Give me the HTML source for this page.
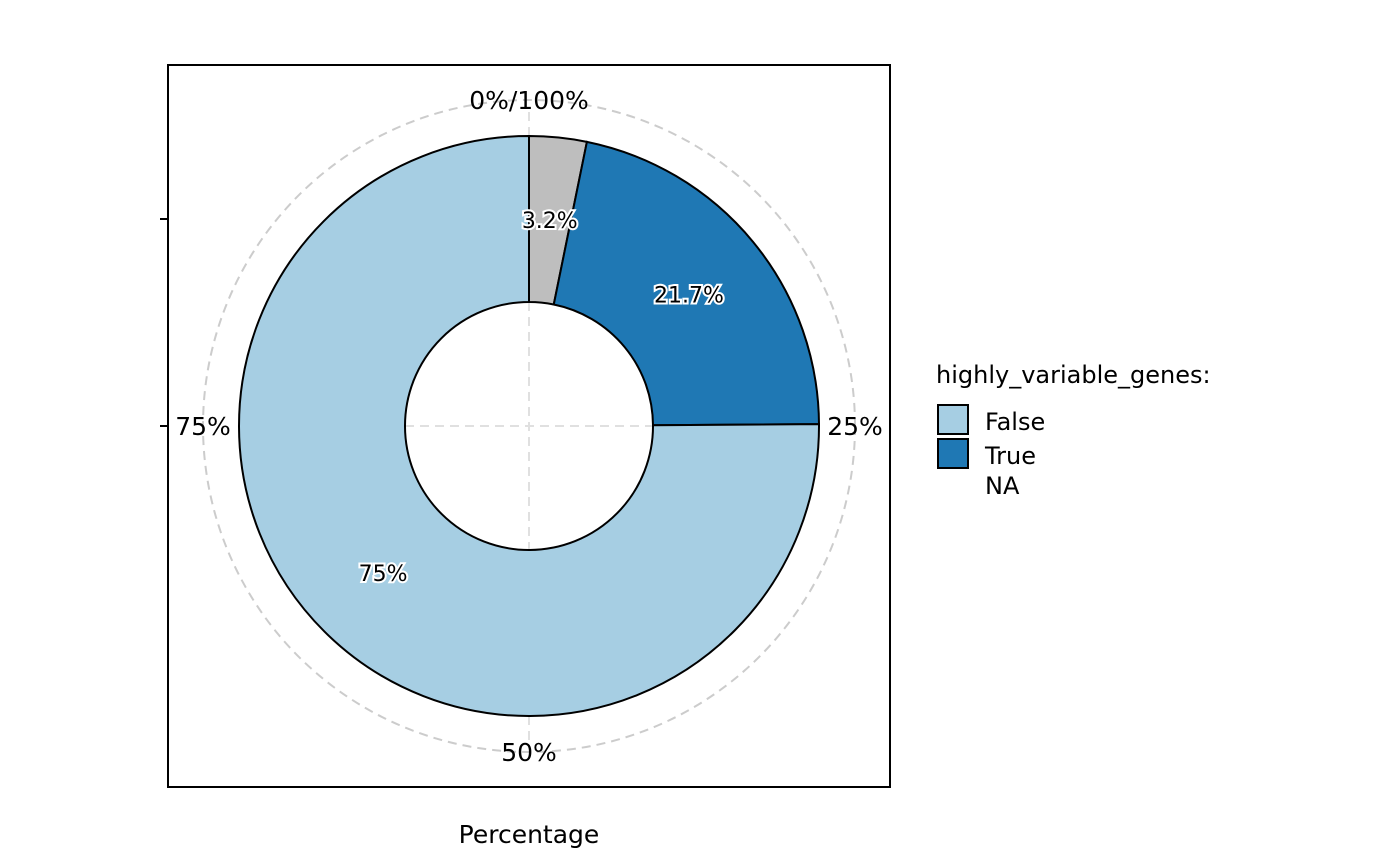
<!DOCTYPE html>
<html><head><meta charset="utf-8">
<style>body{margin:0;background:#fff}svg{display:block;font-family:"DejaVu Sans",sans-serif}</style>
</head><body>
<svg id="chart" width="1400" height="866">
<rect x="168" y="65" width="722" height="722" fill="#fff" stroke="#000" stroke-width="2"/>
<g id="grid"></g>
<g id="slices"></g>
<g id="labels"></g>
<g id="ticks"></g>
<line x1="160" y1="219" x2="168" y2="219" stroke="#000" stroke-width="2"/>
<line x1="160" y1="426" x2="168" y2="426" stroke="#000" stroke-width="2"/>
<text x="529" y="843" font-size="25" text-anchor="middle">Percentage</text>
<g>
<text x="936" y="383" font-size="24">highly_variable_genes:</text>
<g><rect x="938" y="405" width="30" height="29" fill="#a6cee3" stroke="#000" stroke-width="2"/><text x="985" y="430" font-size="24">False</text></g>
<g><rect x="938" y="439" width="30" height="29" fill="#1f78b4" stroke="#000" stroke-width="2"/><text x="985" y="464" font-size="24">True</text></g>
<g><text x="985" y="494" font-size="24">NA</text></g>
</g>
</svg>
<script>
const categories = ["NA", "True", "False"];
const values = [3.2, 21.7, 75.1];
const valueLabels = ["3.2%", "21.7%", "75%"];
const colors = ["#bebebe", "#1f78b4", "#a6cee3"];
const tickValues = [0, 25, 50, 75];
const tickLabels = ["0%/100%", "25%", "50%", "75%"];

const NS = "http://www.w3.org/2000/svg";
const cx = 529, cy = 426, rO = 290, rI = 124, rL = 207, rG = 326;
const total = values.reduce((a, b) => a + b, 0);
function ang(p) { return p / 100 * 2 * Math.PI; }
function pt(a, r) { return [cx + r * Math.sin(a), cy - r * Math.cos(a)]; }
function mk(tag, attrs, parent) { const e = document.createElementNS(NS, tag); for (const k in attrs) e.setAttribute(k, attrs[k]); parent.appendChild(e); return e; }

const grid = document.getElementById("grid");
let g1 = mk("circle", {cx, cy, r: rG, fill: "none", stroke: "#cccccc", "stroke-width": 2, "stroke-dasharray": "9,6"}, grid);



const slices = document.getElementById("slices");
const labels = document.getElementById("labels");
let cum = 0;
values.forEach((v, i) => {
  const a0 = ang(cum / total * 100), a1 = ang((cum + v) / total * 100);
  const large = (a1 - a0) > Math.PI ? 1 : 0;
  const [x0, y0] = pt(a0, rO), [x1, y1] = pt(a1, rO), [x2, y2] = pt(a1, rI), [x3, y3] = pt(a0, rI);
  const p = mk("path", {d: `M${x0},${y0} A${rO},${rO} 0 ${large} 1 ${x1},${y1} L${x2},${y2} A${rI},${rI} 0 ${large} 0 ${x3},${y3} Z`, fill: colors[i], stroke: "#000", "stroke-width": 2}, slices);
  
  
  const [lx, ly] = pt((a0 + a1) / 2, rL);
  const t = mk("text", {x: lx, y: ly + 8, "font-size": 22, "text-anchor": "middle", fill: "#000", stroke: "#fff", "stroke-width": 4, "paint-order": "stroke"}, labels);
  t.textContent = valueLabels[i];
  
  
  cum += v;
});

// inner dashed crosshair
[[cx, cy - rI, cx, cy + rI], [cx - rI, cy, cx + rI, cy], [cx, cy - rO, cx, cy - rG + 10], [cx, cy + rO, cx, cy + rG - 10]].forEach(c => {
  const l = mk("line", {x1: c[0], y1: c[1], x2: c[2], y2: c[3], stroke: "#e0e0e0", "stroke-width": 2, "stroke-dasharray": "9,6"}, grid);
  
  
});

const ticks = document.getElementById("ticks");
tickValues.forEach((tv, i) => {
  const [x, y] = pt(ang(tv), rG);
  const t = mk("text", {x, y: y + 9, "font-size": 25, "text-anchor": "middle"}, ticks);
  t.textContent = tickLabels[i];
  
  
});
</script>
</body></html>
